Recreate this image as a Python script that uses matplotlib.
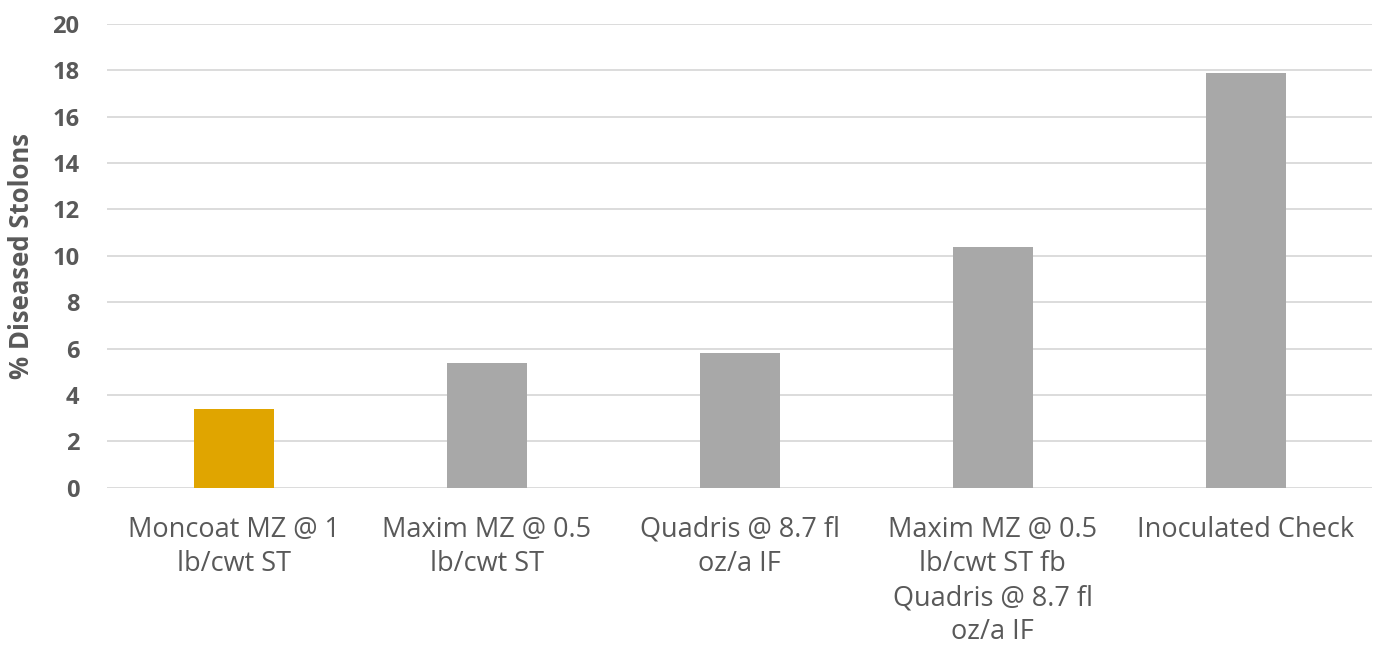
import numpy as np
import matplotlib.pyplot as plt

# data
treatments = ['Moncoat MZ @ 1\nlb/cwt ST',
              'Maxim MZ @ 0.5\nlb/cwt ST',
              'Quadris @ 8.7 fl\noz/a IF',
              'Maxim MZ @ 0.5\nlb/cwt ST fb\nQuadris @ 8.7 fl\noz/a IF',
              'Inoculated Check']
diseased = [3.4, 5.4, 5.8, 10.4, 17.9]
yticks = [0, 2, 4, 6, 8, 10, 12, 14, 16, 18, 20]

colors = ['#E0A500', '#A8A8A8', '#A8A8A8', '#A8A8A8', '#A8A8A8']

fig = plt.figure(figsize=(13.75, 6.61), dpi=100)
ax = fig.add_axes([0.078, 0.262, 0.92, 0.702])

x = np.arange(len(treatments))
ax.bar(x, diseased, width=0.316, color=colors, zorder=3)

ax.set_xlim(-0.5, 4.5)
ax.set_ylim(0, 20)
ax.set_yticks(yticks)
ax.set_xticks(x)
ax.set_xticklabels(treatments, fontsize=19.5, color='#595959',
                   family='Open Sans', linespacing=1.3)
for lab in ax.get_yticklabels():
    lab.set_fontsize(17)
    lab.set_fontweight('bold')
    lab.set_color('#595959')
    lab.set_family('Open Sans')

ax.grid(axis='y', color='#D9D9D9', linewidth=1.3, zorder=0)
for s in ax.spines.values():
    s.set_visible(False)
ax.tick_params(length=0)
ax.tick_params(axis='y', pad=20)
ax.tick_params(axis='x', pad=20)

ax.set_ylabel('% Diseased Stolons', fontsize=18.5, fontweight='bold',
              color='#595959', family='Open Sans')
ax.yaxis.set_label_coords(-0.057, 0.5)

fig.savefig('out.png', dpi=100)
